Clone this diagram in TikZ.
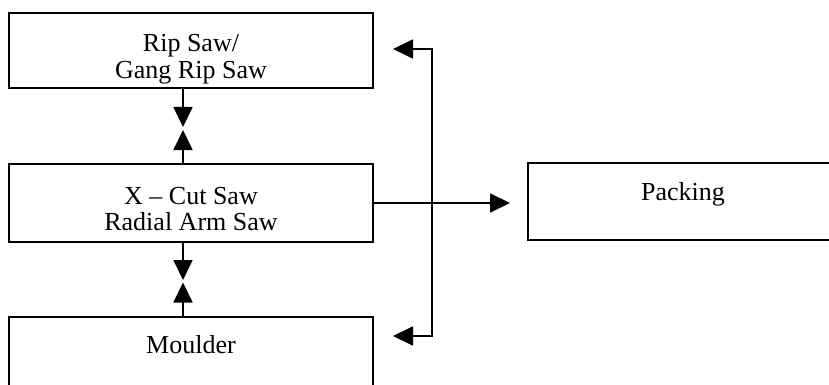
\documentclass[tikz,border=0pt]{standalone}
\usepackage{fontspec}
\setmainfont{Liberation Serif}
\usetikzlibrary{arrows.meta,calc}
\begin{document}
\begin{tikzpicture}[x=1pt,y=-1pt,
  box/.style={draw=black, line width=1.8pt, minimum width=364pt, inner sep=0pt},
  txt/.style={font=\fontsize{26}{27}\selectfont, anchor=base, inner sep=0pt},
  conn/.style={line width=1.8pt, -{Triangle[length=20pt,width=19pt]}},
  conn2/.style={line width=1.8pt, {Triangle[length=20pt,width=19pt]}-{Triangle[length=20pt,width=19pt]}}]
\useasboundingbox (0,0) rectangle (829,385);
\clip (0,0) rectangle (829,385);
\fill[white] (0,0) rectangle (829,385);
% boxes
\node[box, minimum height=75pt] (rip) at (191,50.5) {};
\node[box, minimum height=78pt] (xcut) at (191,203) {};
\node[box, minimum height=77pt] (mould) at (191,355.5) {};
\node[draw=black, line width=1.8pt, minimum width=310pt, minimum height=77pt, inner sep=0pt] (pack) at (683,201.5) {};
% texts
\node[txt] (ripA) at (191,52) {Rip Saw/};
\node[txt] (ripB) at (191,78.5) {Gang Rip Saw};
\node[txt] (xcutA) at (191,204) {X -- Cut Saw};
\node[txt] (xcutB) at (191,230.5) {Radial Arm Saw};
\node[txt] (mouldA) at (191,353) {Moulder};
\node[txt] (packA) at (683,200.5) {Packing};
% coordinates
\coordinate (c1) at (183,127);
\coordinate (c2) at (183,130);
\coordinate (c3) at (183,280);
\coordinate (c4) at (183,282.5);
\coordinate (ripin) at (393,49);
\coordinate (vtop) at (432,49);
\coordinate (vbot) at (432,336);
\coordinate (mouldin) at (393,336);
\coordinate (packin) at (510,203);
% connectors
\draw[conn] (rip.south -| c1) -- (c1);
\draw[conn] (xcut.north -| c2) -- (c2);
\draw[conn] (xcut.south -| c3) -- (c3);
\draw[conn] (mould.north -| c4) -- (c4);
\draw[conn2] (ripin) -- (vtop) -- (vbot) -- (mouldin);
\draw[conn] (xcut.east) -- (packin);
\end{tikzpicture}
\end{document}
